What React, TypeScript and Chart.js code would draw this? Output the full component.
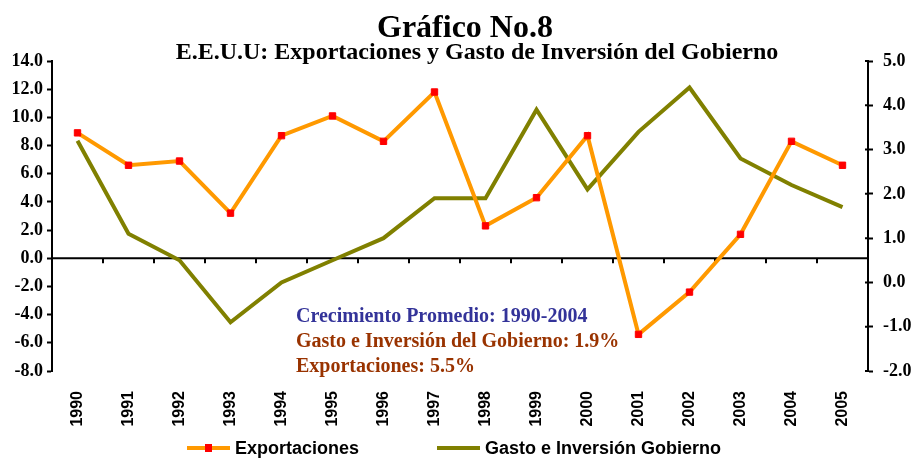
import { useEffect, useRef } from 'react';
import { Chart, registerables } from 'chart.js';
Chart.register(...registerables);

const years = ['1990', '1991', '1992', '1993', '1994', '1995', '1996', '1997', '1998', '1999', '2000', '2001', '2002', '2003', '2004', '2005'];
const exportaciones = [8.9, 6.6, 6.9, 3.2, 8.7, 10.1, 8.3, 11.8, 2.3, 4.3, 8.7, -5.4, -2.4, 1.7, 8.3, 6.6];
const gastoInversion = [3.2, 1.1, 0.5, -0.9, 0.0, 0.5, 1.0, 1.9, 1.9, 3.9, 2.1, 3.4, 4.4, 2.8, 2.2, 1.7];
const seriesNames = ['Exportaciones', 'Gasto e Inversión Gobierno'];
const titleText = 'Gráfico No.8';
const subtitleText = 'E.E.U.U: Exportaciones y Gasto de Inversión del Gobierno';
const noteLines = ['Crecimiento Promedio: 1990-2004', 'Gasto e Inversión del Gobierno: 1.9%', 'Exportaciones: 5.5%'];

const SERIF = "'Liberation Serif', 'Times New Roman', serif";
const SANS = "'Liberation Sans', Arial, sans-serif";
const ORANGE = '#FF9900';
const OLIVE = '#808000';
const RED = '#FF0000';

const overlay = {
  id: 'overlay',
  beforeDatasetsDraw(chart: any) {
    const ctx = chart.ctx;
    const area = chart.chartArea;
    const y = chart.scales.y;
    const x = chart.scales.x;
    const y1 = chart.scales.y1;
    const y0 = y.getPixelForValue(0);
    ctx.save();
    ctx.strokeStyle = '#000';
    ctx.lineWidth = 2;
    ctx.beginPath();
    ctx.moveTo(area.left, y0);
    ctx.lineTo(area.right, y0);
    for (let i = 0; i < years.length - 1; i++) {
      const bx = Math.round((x.getPixelForValue(i) + x.getPixelForValue(i + 1)) / 2);
      ctx.moveTo(bx, y0);
      ctx.lineTo(bx, y0 + 5);
    }
    y1.ticks.forEach((t: any) => {
      const ty = y1.getPixelForValue(t.value);
      ctx.moveTo(area.right - 3, ty);
      ctx.lineTo(area.right, ty);
    });
    ctx.stroke();
    ctx.restore();
  },
  afterDraw(chart: any) {
    const ctx = chart.ctx;
    ctx.save();
    ctx.fillStyle = '#000';
    ctx.textAlign = 'center';
    ctx.textBaseline = 'alphabetic';
    ctx.font = `bold 32px ${SERIF}`;
    ctx.fillText(titleText, 465, 37);
    ctx.font = `bold 24px ${SERIF}`;
    ctx.fillText(subtitleText, 477, 59);

    ctx.textAlign = 'left';
    ctx.font = `bold 20px ${SERIF}`;
    const noteColors = ['#333399', '#993300', '#993300'];
    noteLines.forEach((s, i) => {
      ctx.fillStyle = noteColors[i];
      ctx.fillText(s, 296, 322 + i * 25);
    });

    // legend
    const ly = 448;
    ctx.lineWidth = 4;
    ctx.strokeStyle = ORANGE;
    ctx.beginPath();
    ctx.moveTo(187, ly);
    ctx.lineTo(230, ly);
    ctx.stroke();
    ctx.fillStyle = RED;
    ctx.fillRect(205, ly - 4, 7, 8);
    ctx.strokeStyle = OLIVE;
    ctx.beginPath();
    ctx.moveTo(437, ly);
    ctx.lineTo(480, ly);
    ctx.stroke();
    ctx.fillStyle = '#000';
    ctx.font = `bold 18px ${SANS}`;
    ctx.textBaseline = 'middle';
    ctx.fillText(seriesNames[0], 235, ly + 1);
    ctx.fillText(seriesNames[1], 485, ly + 1);
    ctx.restore();
  },
};

export default function App() {
  const ref = useRef<HTMLCanvasElement | null>(null);
  useEffect(() => {
    if (!ref.current) return;
    const chart = new Chart(ref.current, {
      type: 'line',
      data: {
        labels: years,
        datasets: [
          {
            label: seriesNames[0],
            data: exportaciones,
            yAxisID: 'y',
            borderColor: ORANGE,
            borderWidth: 4,
            backgroundColor: RED,
            pointBackgroundColor: RED,
            pointBorderColor: RED,
            pointBorderWidth: 1,
            pointStyle: 'rect',
            pointRadius: 4.5,
            tension: 0,
          },
          {
            label: seriesNames[1],
            data: gastoInversion,
            yAxisID: 'y1',
            borderColor: OLIVE,
            borderWidth: 4,
            pointRadius: 0,
            tension: 0,
          },
        ],
      },
      options: {
        responsive: false,
        animation: false,
        layout: { padding: { top: 61, left: 0, right: 0, bottom: 0 } },
        plugins: { legend: { display: false }, title: { display: false }, tooltip: { enabled: false } },
        scales: {
          x: {
            offset: true,
            grid: { display: false },
            border: { display: false },
            ticks: {
              autoSkip: false,
              maxRotation: 90,
              minRotation: 90,
              padding: 12,
              color: '#000',
              font: { family: SANS, size: 16, weight: 'bold' },
            },
            afterFit(scale: any) { scale.height = 88; },
          },
          y: {
            position: 'left',
            min: -8,
            max: 14,
            grid: { display: true, drawOnChartArea: false, drawTicks: true, tickLength: 5, color: '#000', tickWidth: 2 },
            border: { display: true, color: '#000', width: 2 },
            ticks: {
              stepSize: 2,
              padding: 4,
              color: '#000',
              font: { family: SERIF, size: 18, weight: 'bold' },
              callback: (v: any) => Number(v).toFixed(1),
            },
            afterFit(scale: any) { scale.width = 52; },
          },
          y1: {
            position: 'right',
            min: -2,
            max: 5,
            grid: { display: true, drawOnChartArea: false, drawTicks: true, tickLength: 5, color: '#000', tickWidth: 2 },
            border: { display: true, color: '#000', width: 2 },
            ticks: {
              stepSize: 1,
              padding: 10,
              color: '#000',
              font: { family: SERIF, size: 18, weight: 'bold' },
              callback: (v: any) => Number(v).toFixed(1),
            },
            afterFit(scale: any) { scale.width = 45; },
          },
        },
      },
      plugins: [overlay],
    });
    return () => chart.destroy();
  }, []);
  return (
    <div style={{ position: 'fixed', left: 0, top: 0, width: 913, height: 459, background: '#fff' }}>
      <canvas ref={ref} width={913} height={459} />
    </div>
  );
}
